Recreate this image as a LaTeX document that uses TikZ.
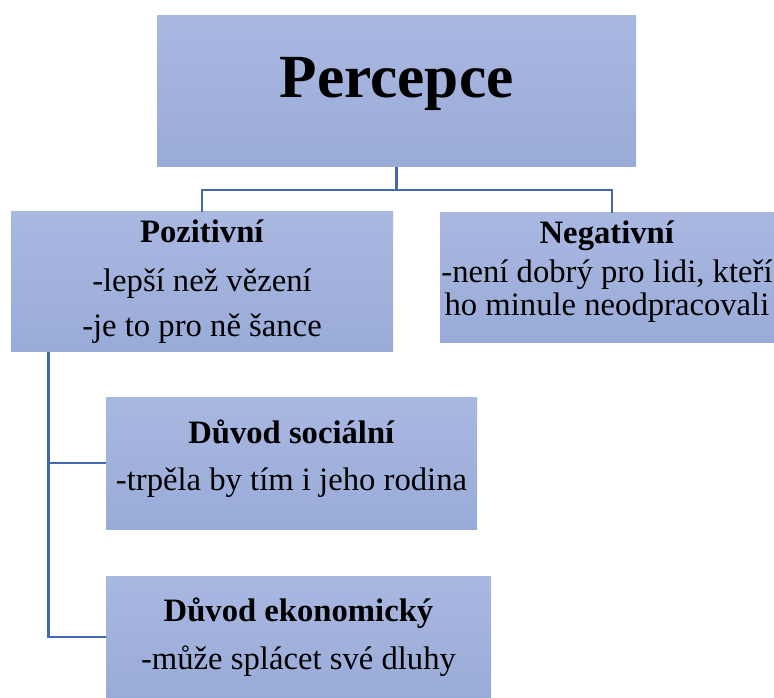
\documentclass[tikz,border=0pt]{standalone}
\usepackage{fontspec}
\setmainfont{Liberation Serif}
\usetikzlibrary{positioning}
\definecolor{boxTop}{HTML}{A9B8E1}
\definecolor{boxBottom}{HTML}{99ABD8}
\definecolor{linkBlue}{HTML}{4468B0}

\begin{document}
\begin{tikzpicture}[
    x=0.75pt, y=-0.75pt,
    box/.style={rectangle, top color=boxTop, bottom color=boxBottom,
        inner sep=0pt, align=center},
    body/.style={font=\fontsize{24.5}{#1}\selectfont},
    link/.style={draw=linkBlue, line width=2pt}
]
\useasboundingbox (0,0) rectangle (774,698);

% Top concept.
\node[box, minimum width=359.25pt, minimum height=113.25pt,
    font=\fontsize{46}{55}\selectfont\bfseries, text depth=20.5pt]
    (perc) at (396.5,91.5) {Percepce};

% Two perceptions.
\node[box, body=33.75, minimum width=286.5pt, minimum height=105pt]
    (poz) at (202,282)
    {\textbf{Pozitivní}\\[3pt]-lepší než vězení\\-je to pro ně šance};
\node[box, body=25, minimum width=250.5pt, minimum height=97.5pt, text depth=15pt]
    (neg) at (607,278)
    {\textbf{Negativní}\\[4.5pt]-není dobrý pro lidi, kteří\\ho minule neodpracovali};

% Reasons under the positive side.
\node[box, body=35.25, minimum width=278.25pt, minimum height=99pt, text depth=12pt]
    (soc) at (291.5,463)
    {\textbf{Důvod sociální}\\-trpěla by tím i jeho rodina};
\node[box, body=36, minimum width=288.75pt, minimum height=91.5pt]
    (eko) at (298.5,637)
    {\textbf{Důvod ekonomický}\\-může splácet své dluhy};

% Connectors.
\coordinate (fork) at (396.5,190);
\coordinate (spine) at ([xshift=28.5pt]poz.south west);
\draw[link] (perc) -- (fork);
\draw[link] (fork) -| (poz);
\draw[link] (fork) -| ([xshift=3.75pt]neg.north);
\draw[link] (spine) |- (soc.west);
\draw[link] (spine) |- (eko.west);

\end{tikzpicture}
\end{document}
